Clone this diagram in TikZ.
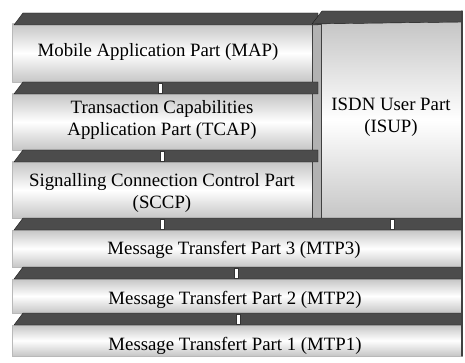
\documentclass[tikz,border=0pt]{standalone}
\usepackage{fontspec}
\setmainfont{Liberation Serif}
\begin{document}
\begin{tikzpicture}[x=1pt, y=-1pt, line join=round, line cap=round,
    font=\fontsize{18.8}{22}\selectfont,
    face/.style={draw=gray!55, top color=gray!45, bottom color=gray!45, middle color=white},
    slab/.style={draw=black!90, fill=black!70},
    notch/.style={draw=black!80, fill=white, line width=0.6pt},
    lbl/.style={align=center, inner sep=0pt}]
    \def\xl{12}\def\xr{462}\def\xs{312}
    \useasboundingbox (0,0) rectangle (465,363);
    \foreach \t/\b in {24/82,94/150,162/218} \draw[face] (\xl,\t) rectangle (\xs,\b);
    \draw[face] (\xs+9,22) rectangle (\xr,218);
    \draw[draw=black!75, fill=gray!60] (\xs,24) rectangle (\xs+9,218);
    \foreach \t/\b in {230/267,279/313,325/356} \draw[face] (\xl,\t) rectangle (\xr,\b);
    \foreach \t in {13,82,150} \draw[slab] (\xl+2,\t+12)--(\xl+11,\t)--(\xs+6,\t)--(\xs+6,\t+12)--cycle;
    \draw[slab] (\xs,24)--(\xs+10,11)--(\xr,11)--(\xr,22)--cycle;
    \foreach \t in {218,267,313} \draw[slab] (\xl+2,\t+12)--(\xl+11,\t)--(\xr,\t)--(\xr,\t+12)--cycle;
    \foreach \x/\t in {160/82,162/150,162/218,392/218,236/267,238/313} \draw[notch] (\x-2,\t+1) rectangle (\x+2,\t+11);
    \draw[black!75, line width=1.2pt] (\xr,11)--(\xr,356);
    \node[lbl] (map) at (158,52) {Mobile Application Part (MAP)};
    \node[lbl] (tcap) at (162,120) {Transaction Capabilities\\Application Part (TCAP)};
    \node[lbl] (sccp) at (162,193) {Signalling Connection Control Part\\(SCCP)};
    \node[lbl] (isup) at (391,117) {ISDN User Part\\(ISUP)};
    \node[lbl] (mtp3) at (234,250) {Message Transfert Part 3 (MTP3)};
    \node[lbl] (mtp2) at (235,300) {Message Transfert Part 2 (MTP2)};
    \node[lbl] (mtp1) at (235,346) {Message Transfert Part 1 (MTP1)};
\end{tikzpicture}
\end{document}
